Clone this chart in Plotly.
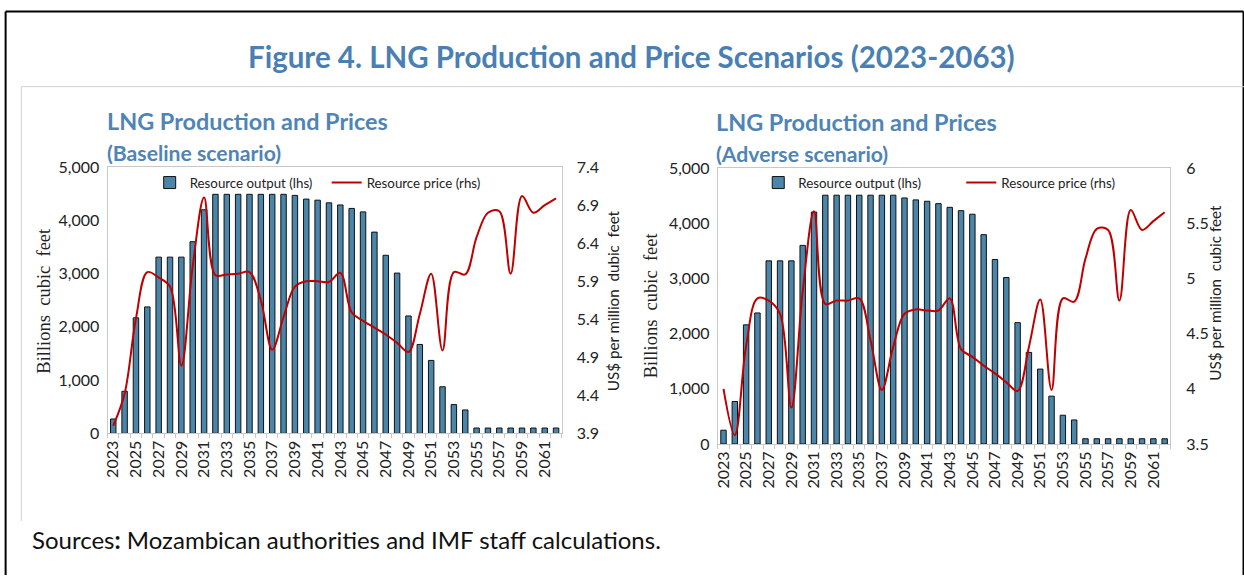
import plotly.graph_objects as go

W, H = 1244, 584

years = list(range(2023, 2063))

output_baseline = [270, 790, 2170, 2375, 3310, 3310, 3310, 3600, 4200,
                   4490, 4490, 4490, 4490, 4490, 4490, 4490,
                   4470, 4400, 4380, 4330, 4290, 4225, 4160,
                   3780, 3345, 3010, 2205, 1670, 1370, 875, 540, 440,
                   100, 100, 100, 100, 100, 100, 100, 100]

price_baseline = [4.0, 4.42, 5.41, 6.02, 5.95, 5.83, 4.79, 6.1, 7.0, 5.98,
                  5.99, 6.0, 6.02, 5.65, 5.0, 5.43, 5.83, 5.9, 5.9, 5.89,
                  6.01, 5.49, 5.38, 5.29, 5.2, 5.09, 4.97, 5.47, 6.0, 4.99,
                  6.02, 5.99, 6.48, 6.8, 6.82, 6.0, 7.02, 6.8, 6.9, 6.99]

output_adverse = [250, 770, 2160, 2375, 3320, 3320, 3320, 3600, 4205,
                  4510, 4510, 4510, 4510, 4510, 4510, 4510,
                  4460, 4425, 4400, 4357, 4290, 4230, 4165,
                  3795, 3345, 3018, 2200, 1660, 1358, 867, 521, 436,
                  95, 95, 95, 95, 95, 95, 95, 95]

price_adverse = [4.0, 3.58, 4.39, 4.82, 4.80, 4.68, 3.83, 4.88, 5.61, 4.77,
                 4.8, 4.8, 4.82, 4.44, 3.99, 4.38, 4.68, 4.72, 4.71, 4.71,
                 4.82, 4.36, 4.29, 4.21, 4.14, 4.06, 3.98, 4.38, 4.81, 3.99,
                 4.82, 4.79, 5.18, 5.45, 5.44, 4.80, 5.62, 5.44, 5.52, 5.6]

BAR_COLOR = "#4A86AA"
LINE_COLOR = "#C00000"
BLUE = "#4A7FB3"
SUB_BLUE = "#4F84B6"
FONT = "Lato"
AX_COL = "#C8C8C8"
TXT = "#222222"

# screen-position helpers (target pixel -> paper fraction)
OX, SX, OY, SY = 5.7, 0.9934, 10.6, 0.9646


def fx(X):
    return min(max(((X - OX) / SX) / W, 0), 1)


def fy(Y):
    return min(max(1 - ((Y - OY) / SY) / H, 0), 1)


fig = go.Figure()

fig.add_trace(go.Bar(x=years, y=output_baseline, name="Resource output (lhs)",
                     marker=dict(color=BAR_COLOR, line=dict(color="#111111", width=1)),
                     xaxis="x", yaxis="y", legend="legend"))
fig.add_trace(go.Scatter(x=years, y=price_baseline, name="Resource price (rhs)",
                         mode="lines", line=dict(color=LINE_COLOR, width=2, shape="spline", smoothing=1),
                         xaxis="x", yaxis="y2", legend="legend"))
fig.add_trace(go.Bar(x=years, y=output_adverse, name="Resource output (lhs)",
                     marker=dict(color=BAR_COLOR, line=dict(color="#111111", width=1)),
                     xaxis="x2", yaxis="y3", legend="legend2"))
fig.add_trace(go.Scatter(x=years, y=price_adverse, name="Resource price (rhs)",
                         mode="lines", line=dict(color=LINE_COLOR, width=2, shape="spline", smoothing=1),
                         xaxis="x2", yaxis="y4", legend="legend2"))

xcommon = dict(range=[2022.5, 2062.5], tickmode="linear", tick0=2023, dtick=2,
               tickangle=-90, ticks="", showline=True, linecolor=AX_COL, linewidth=1,
               mirror=True, showgrid=False, zeroline=False,
               tickfont=dict(family=FONT, size=16, color=TXT),
               minor=dict(ticks="outside", tick0=2022.5, dtick=1, ticklen=4,
                          tickcolor=AX_COL, showgrid=False))
ylcommon = dict(range=[0, 5000], tickmode="linear", tick0=0, dtick=1000, tickformat=",",
                showline=True, linecolor=AX_COL, linewidth=1, mirror=True,
                showgrid=False, zeroline=False, ticks="",
                tickfont=dict(family=FONT, size=16, color=TXT), ticklabelstandoff=4)
yrcommon = dict(side="right", showgrid=False, zeroline=False, showline=False,
                ticks="", tickmode="linear", dtick=0.5, anchor="free",
                tickfont=dict(family=FONT, size=16, color=TXT))

L = [108, 561, 167.3, 432.7]
R = [716.7, 1168, 168.3, 443.3]

fig.update_layout(
    width=W, height=H, margin=dict(l=0, r=0, t=0, b=0),
    paper_bgcolor="white", plot_bgcolor="white",
    bargap=0.52, showlegend=True,
    xaxis=dict(domain=[fx(L[0]), fx(L[1])], anchor="y", **xcommon),
    yaxis=dict(domain=[fy(L[3]), fy(L[2])], anchor="x", **ylcommon),
    yaxis2=dict(overlaying="y", position=fx(575), range=[3.9, 7.4], tick0=3.9, **yrcommon),
    xaxis2=dict(domain=[fx(R[0]), fx(R[1])], anchor="y3", **xcommon),
    yaxis3=dict(domain=[fy(R[3]), fy(R[2])], anchor="x2", **ylcommon),
    yaxis4=dict(overlaying="y3", position=fx(1183), range=[3.5, 6], tick0=3.5, **yrcommon),
    legend=dict(orientation="h", x=fx(150), y=fy(183), xanchor="left", yanchor="middle",
                bgcolor="rgba(0,0,0,0)", entrywidth=132, itemwidth=30,
                font=dict(family=FONT, size=13.3, color=TXT)),
    legend2=dict(orientation="h", x=fx(757), y=fy(183), xanchor="left", yanchor="middle",
                 bgcolor="rgba(0,0,0,0)", entrywidth=158, itemwidth=30,
                 font=dict(family=FONT, size=13.3, color=TXT)),
)

ann = []
ann.append(dict(text="<b>Figure 4. LNG Production and Price Scenarios (2023-2063)</b>",
                x=fx(631), y=fy(57), xanchor="center", yanchor="middle",
                font=dict(family=FONT, size=29.5, color=BLUE)))
for x0, sub, yy in [(105, "(Baseline scenario)", 121), (713, "(Adverse scenario)", 122)]:
    ann.append(dict(text="<b>LNG Production and Prices</b>", x=fx(x0), y=fy(yy),
                    xanchor="left", yanchor="middle",
                    font=dict(family=FONT, size=23.4, color=SUB_BLUE)))
    ann.append(dict(text="<b>" + sub + "</b>", x=fx(x0), y=fy(yy + 32),
                    xanchor="left", yanchor="middle",
                    font=dict(family=FONT, size=21.2, color=SUB_BLUE)))
ann.append(dict(text="Billions  cubic  feet", x=fx(45), y=fy(300), textangle=-90,
                xanchor="center", yanchor="middle",
                font=dict(family="Liberation Serif", size=18.5, color=TXT)))
ann.append(dict(text="Billions  cubic  feet", x=fx(650), y=fy(305), textangle=-90,
                xanchor="center", yanchor="middle",
                font=dict(family="Liberation Serif", size=18.5, color=TXT)))
ann.append(dict(text="US$ per million  dubic  feet", x=fx(612), y=fy(300), textangle=-90,
                xanchor="center", yanchor="middle",
                font=dict(family=FONT, size=15.2, color=TXT)))
ann.append(dict(text="US$ per million  cubic feet", x=fx(1213), y=fy(292), textangle=-90,
                xanchor="center", yanchor="middle",
                font=dict(family=FONT, size=15.2, color=TXT)))
ann.append(dict(text="Sources<b>:</b> Mozambican authorities and IMF staff calculations.",
                x=fx(31), y=fy(538.5), xanchor="left", yanchor="middle",
                font=dict(family=FONT, size=24, color="#111111")))
for a in ann:
    a.update(xref="paper", yref="paper", showarrow=False)
fig.update_layout(annotations=ann)

shapes = [
    dict(type="line", x0=0.0005, x1=fx(1241), y0=fy(12), y1=fy(12),
         line=dict(color="black", width=2)),
    dict(type="line", x0=0.0005, x1=0.0005, y0=fy(12), y1=0,
         line=dict(color="black", width=2)),
    dict(type="line", x0=fx(1241), x1=fx(1241), y0=fy(12), y1=0,
         line=dict(color="black", width=2)),
    dict(type="line", x0=fx(22), x1=1, y0=fy(87), y1=fy(87),
         line=dict(color="#D0D0D0", width=1)),
    dict(type="line", x0=fx(22), x1=fx(22), y0=fy(87), y1=fy(520),
         line=dict(color="#D0D0D0", width=1)),
]
for s in shapes:
    s.update(xref="paper", yref="paper")
fig.update_layout(shapes=shapes)

fig.write_html("out.html", config={"displayModeBar": False},
               post_script="document.body.style.margin='0';document.body.style.overflow='hidden';")
